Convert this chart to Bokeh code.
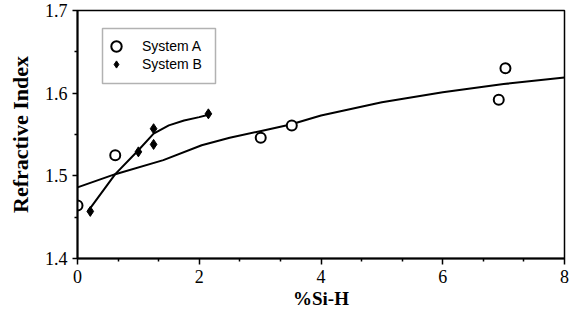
from bokeh.plotting import figure
from bokeh.models import (Range1d, FixedTicker, Legend, LegendItem, BoxAnnotation)
from bokeh.embed import file_html
from bokeh.resources import INLINE

# System A measurements (open circles)
a_x = [0.0, 0.62, 3.01, 3.52, 6.92, 7.03]
a_y = [1.464, 1.525, 1.546, 1.561, 1.592, 1.630]
# System A fitted curve
a_fit_x = [0.0, 0.62, 1.41, 2.04, 2.5, 3.0, 3.5, 4.0, 5.0, 6.0, 7.0, 8.0]
a_fit_y = [1.486, 1.502, 1.519, 1.537, 1.546, 1.554, 1.562, 1.573, 1.589, 1.601, 1.611, 1.619]

# System B measurements (filled diamonds)
b_x = [0.21, 1.00, 1.25, 1.25, 2.15]
b_y = [1.457, 1.529, 1.557, 1.538, 1.575]
# System B fitted curve
b_fit_x = [0.18, 0.62, 1.0, 1.25, 1.5, 1.75, 2.0, 2.15]
b_fit_y = [1.458, 1.502, 1.531, 1.551, 1.561, 1.567, 1.571, 1.574]

x_ticks = [0, 2, 4, 6, 8]
x_minor = [0.667, 1.333, 2.667, 3.333, 4.667, 5.333, 6.667, 7.333]
y_ticks = [1.4, 1.5, 1.6, 1.7]
y_minor = [1.45, 1.55, 1.65]

p = figure(width=570, height=320, output_backend="svg", toolbar_location=None,
           x_range=Range1d(0, 8), y_range=Range1d(1.4, 1.7),
           min_border_left=77, min_border_right=6, min_border_top=10, min_border_bottom=62)
p.background_fill_color = "white"
p.border_fill_color = "white"
p.outline_line_color = "black"
p.outline_line_width = 1.5
p.grid.visible = False

line_a = p.line(a_fit_x, a_fit_y, line_color="black", line_width=2)
pts_a = p.scatter(a_x, a_y, marker="circle", size=10, line_color="black",
                  line_width=2, fill_color="white")
line_b = p.line(b_fit_x, b_fit_y, line_color="black", line_width=2)
pts_b = p.scatter(b_x, b_y, marker="diamond", size=10,
                  line_color="black", line_width=1, fill_color="black")

p.xaxis.axis_line_width = 2
p.yaxis.axis_line_width = 2
p.xaxis.axis_line_color = "black"
p.yaxis.axis_line_color = "black"
p.xaxis.major_tick_line_width = 1.5
p.yaxis.major_tick_line_width = 1.5
p.xaxis.minor_tick_line_width = 1.5
p.yaxis.minor_tick_line_width = 1.5
p.xaxis.major_tick_in = 0
p.yaxis.major_tick_in = 0
p.xaxis.minor_tick_in = 0
p.yaxis.minor_tick_in = 0
p.xaxis.major_label_text_font = "Liberation Serif"
p.yaxis.major_label_text_font = "Liberation Serif"
p.xaxis.major_label_text_font_size = "18px"
p.yaxis.major_label_text_font_size = "18px"
p.xaxis.major_label_text_color = "black"
p.yaxis.major_label_text_color = "black"
p.xaxis.axis_label_text_font = "Liberation Serif"
p.yaxis.axis_label_text_font = "Liberation Serif"
p.xaxis.axis_label_text_font_style = "bold"
p.yaxis.axis_label_text_font_style = "bold"
p.xaxis.axis_label_text_color = "black"
p.yaxis.axis_label_text_color = "black"

p.xaxis.ticker = FixedTicker(ticks=x_ticks, minor_ticks=x_minor)
p.yaxis.ticker = FixedTicker(ticks=y_ticks, minor_ticks=y_minor)
p.xaxis.major_tick_out = 6
p.xaxis.minor_tick_out = 3
p.yaxis.major_tick_out = 5
p.yaxis.minor_tick_out = 3
p.xaxis.major_label_standoff = 5
p.yaxis.major_label_standoff = 5
p.xaxis.axis_label = "%Si-H"
p.xaxis.axis_label_text_font_size = "19px"
p.xaxis.axis_label_standoff = 2
p.yaxis.axis_label = "Refractive Index"
p.yaxis.axis_label_text_font_size = "22px"
p.yaxis.axis_label_standoff = 9

box = BoxAnnotation(left=25, right=138, top=230, bottom=175,
                    left_units="screen", right_units="screen",
                    top_units="screen", bottom_units="screen",
                    fill_color="white", fill_alpha=1.0,
                    line_color="black", line_width=1.5)
p.add_layout(box)

def make_legend(label, renderer, gh, vy):
    return Legend(items=[LegendItem(label=label, renderers=[renderer])],
                  location=(26, vy), padding=0, spacing=0, margin=0,
                  glyph_width=26, glyph_height=gh, label_height=gh,
                  label_standoff=13, border_line_color=None,
                  background_fill_alpha=0.0,
                  label_text_font="Liberation Sans", label_text_font_size="14px",
                  label_text_color="black")

p.add_layout(make_legend("System A", pts_a, 26, 199))
p.add_layout(make_legend("System B", pts_b, 18, 185))

open("out.html", "w").write(file_html(p, INLINE))
